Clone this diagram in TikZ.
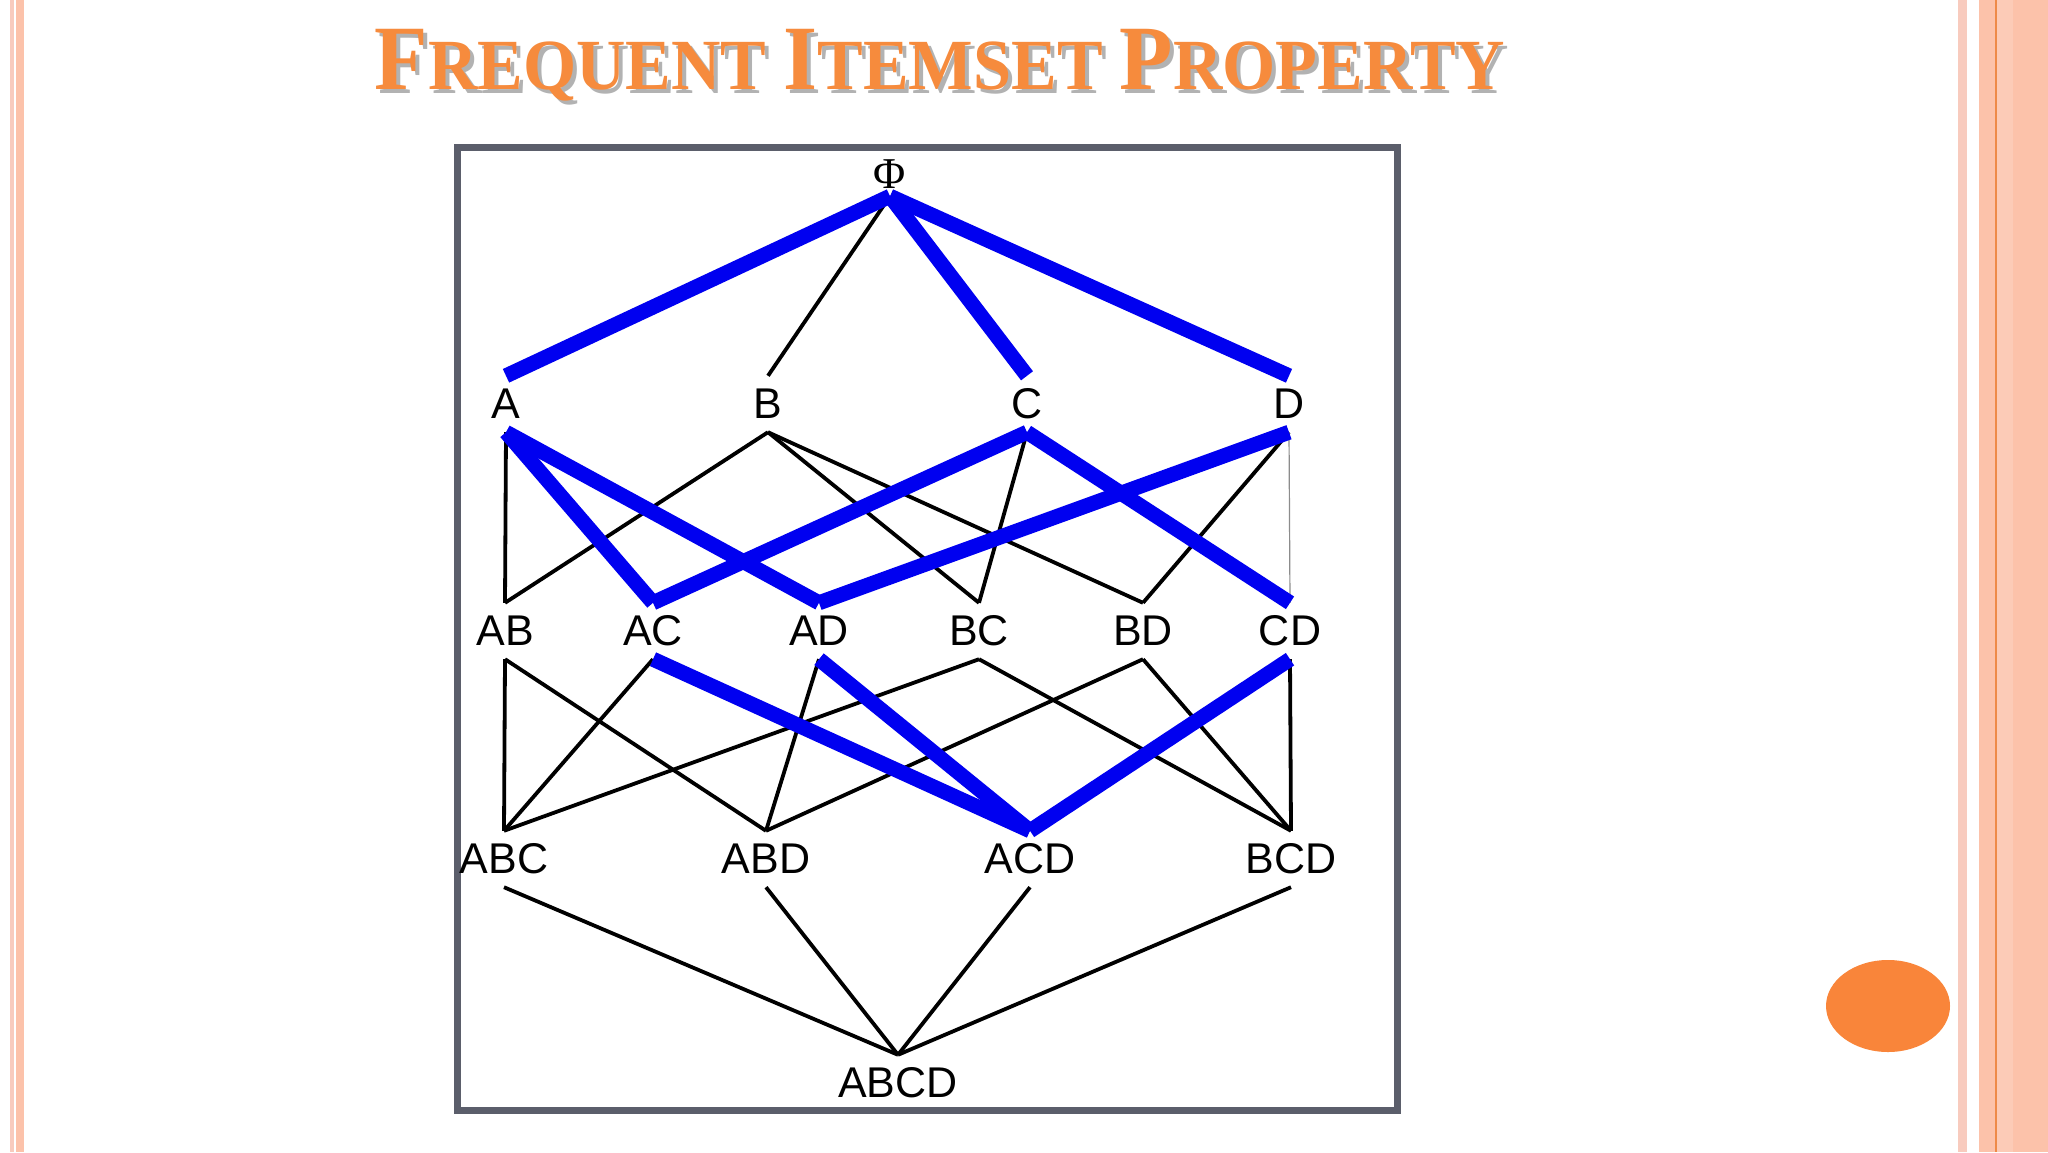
\documentclass[tikz,border=0pt]{standalone}
\usepackage{fontspec}
\setmainfont{Liberation Sans}
\newfontfamily\titlefont[FakeStretch=0.95]{Liberation Serif}
\newfontfamily\phifont{Liberation Serif}
\definecolor{titleorange}{HTML}{F68B3D}
\definecolor{dotorange}{HTML}{F9853A}
\definecolor{freqblue}{HTML}{0000F0}
\definecolor{framegray}{HTML}{5B5E6B}
\definecolor{stripepale}{HTML}{F8CBBE}
\definecolor{stripesalmon}{HTML}{FCC2AA}
\definecolor{stripeline}{HTML}{EE8A48}
\begin{document}
\begin{tikzpicture}[x=1pt,y=-1pt]
	\tikzstyle{item} = [inner sep=0, minimum height=56, font=\fontsize{43}{43}\selectfont]
	\tikzstyle{title} = [anchor=base, inner sep=0, font=\titlefont\bfseries\fontsize{72}{72}\selectfont]
	\tikzstyle{lattice} = [line width=3.8, draw=black]
	\tikzstyle{faint} = [line width=1.2, draw=black!45]
	\tikzstyle{frequent} = [line width=15, draw=freqblue]
	\useasboundingbox (0,0) rectangle (2048,1152);
	\fill [white] (0,0) rectangle (2048,1152);
\fill [stripepale] (10,0) rectangle (14,1152);
\fill [stripesalmon] (16,0) rectangle (24,1152);
\fill [stripepale] (1958,0) rectangle (1967,1152);
\fill [stripesalmon] (1979,0) rectangle (1995,1152);
\fill [stripeline] (1995,0) rectangle (1997,1152);
\fill [stripesalmon!85] (1997,0) rectangle (2013,1152);
\fill [stripesalmon] (2013,0) rectangle (2048,1152);
\fill [dotorange] (1888,1006) ellipse [x radius=62, y radius=46];
\node [title, text=black!30] (titleshadow) at (944,93) {{\fontsize{92}{92}\selectfont F}REQUENT {\fontsize{92}{92}\selectfont I}TEMSET {\fontsize{92}{92}\selectfont P}ROPERTY};
\node [title, text=titleorange] (title) at (940,89) {{\fontsize{92}{92}\selectfont F}REQUENT {\fontsize{92}{92}\selectfont I}TEMSET {\fontsize{92}{92}\selectfont P}ROPERTY};
\draw [line width=7, draw=framegray] (457,147) rectangle (1397,1110);
\node [item, minimum height=44, font=\phifont\fontsize{44}{44}\selectfont] (phi) at (890,174) {Φ};
\node [item] (A) at (506,404) {A};
\node [item] (B) at (768,404) {B};
\node [item] (C) at (1027,404) {C};
\node [item] (D) at (1289,404) {D};
\node [item] (AB) at (505,631) {AB};
\node [item] (AC) at (653,631) {AC};
\node [item] (AD) at (819,631) {AD};
\node [item] (BC) at (979,631) {BC};
\node [item] (BD) at (1143,631) {BD};
\node [item] (CD) at (1290,631) {CD};
\node [item] (ABC) at (504,859) {ABC};
\node [item] (ABD) at (766,859) {ABD};
\node [item] (ACD) at (1030,859) {ACD};
\node [item] (BCD) at (1291,859) {BCD};
\node [item] (ABCD) at (898,1083) {ABCD};
\draw [lattice] (phi.south) edge (B.north);
\draw [lattice] (A.south) edge (AB.north);
\draw [lattice] (B.south) edge (AB.north);
\draw [lattice] (B.south) edge (BC.north);
\draw [lattice] (B.south) edge (BD.north);
\draw [lattice] (C.south) edge (BC.north);
\draw [lattice] (D.south) edge (BD.north);
\draw [faint] (D.south) edge (CD.north);
\draw [lattice] (AB.south) edge (ABC.north);
\draw [lattice] (AB.south) edge (ABD.north);
\draw [lattice] (AC.south) edge (ABC.north);
\draw [lattice] (AD.south) edge (ABD.north);
\draw [lattice] (BC.south) edge (ABC.north);
\draw [lattice] (BC.south) edge (BCD.north);
\draw [lattice] (BD.south) edge (ABD.north);
\draw [lattice] (BD.south) edge (BCD.north);
\draw [lattice] (CD.south) edge (BCD.north);
\draw [lattice] (ABC.south) edge (ABCD.north);
\draw [lattice] (ABD.south) edge (ABCD.north);
\draw [lattice] (ACD.south) edge (ABCD.north);
\draw [lattice] (BCD.south) edge (ABCD.north);
\draw [frequent] (phi.south) edge (A.north);
\draw [frequent] (phi.south) edge (C.north);
\draw [frequent] (phi.south) edge (D.north);
\draw [frequent] (A.south) edge (AC.north);
\draw [frequent] (A.south) edge (AD.north);
\draw [frequent] (C.south) edge (AC.north);
\draw [frequent] (C.south) edge (CD.north);
\draw [frequent] (D.south) edge (AD.north);
\draw [frequent] (AC.south) edge (ACD.north);
\draw [frequent] (AD.south) edge (ACD.north);
\draw [frequent] (CD.south) edge (ACD.north);
\end{tikzpicture}
\end{document}
